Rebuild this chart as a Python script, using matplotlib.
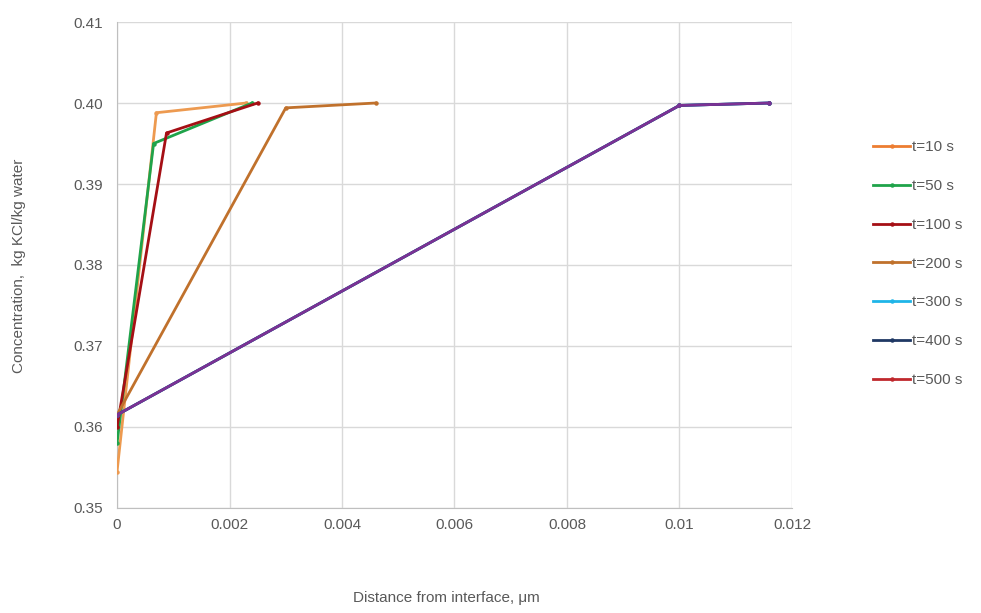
import matplotlib
matplotlib.use("Agg")
import matplotlib.pyplot as plt
from matplotlib.lines import Line2D

# ===================
# DATA
# ===================
LABELS = ["t=10 s", "t=50 s", "t=100 s", "t=200 s", "t=300 s", "t=400 s", "t=500 s"]
LEGEND_COLORS = ["#ED7D31", "#1FA34A", "#A50F15", "#C0712C", "#1FB5E8", "#1F3864", "#C0282D"]
LINE_COLORS = ["#ED9A50", "#1FA34A", "#A50F15", "#C0712C", "#1FB5E8", "#1F3864", "#7B3294"]

# distance from interface (um) and concentration (kg KCl/kg water)
x_10 = [0.0, 0.0007, 0.0023]
y_10 = [0.3545, 0.3988, 0.4000]
x_50 = [0.0, 0.00065, 0.0024]
y_50 = [0.3580, 0.3950, 0.4000]
x_100 = [0.0, 0.00088, 0.0025]
y_100 = [0.3600, 0.3963, 0.4000]
x_200 = [0.0, 0.0030, 0.0046]
y_200 = [0.3615, 0.3994, 0.4000]
x_300 = [0.0, 0.0100, 0.0116]
y_300 = [0.3615, 0.3997, 0.4000]
x_400 = [0.0, 0.0100, 0.0116]
y_400 = [0.3615, 0.3997, 0.4000]
x_500 = [0.0, 0.0100, 0.0116]
y_500 = [0.3615, 0.3997, 0.4000]

SERIES = [(x_10, y_10), (x_50, y_50), (x_100, y_100), (x_200, y_200),
          (x_300, y_300), (x_400, y_400), (x_500, y_500)]

TEXT_COLOR = "#595959"
GRID_COLOR = "#D9D9D9"

plt.rcParams["font.family"] = ["Liberation Sans", "DejaVu Sans"]

fig = plt.figure(figsize=(9.81, 6.13), dpi=100)
ax = fig.add_axes([0.1193, 0.1713, 0.688, 0.7928])

for (xs, ys), color in zip(SERIES, LINE_COLORS):
    ax.plot(xs, ys, color=color, lw=2.0, marker="o", ms=2.2, zorder=3)

ax.set_xlim(0, 0.012)
ax.set_ylim(0.35, 0.41)
ax.set_xticks([0, 0.002, 0.004, 0.006, 0.008, 0.01, 0.012])
ax.set_xticklabels(["0", "0.002", "0.004", "0.006", "0.008", "0.01", "0.012"])
ax.set_yticks([0.35, 0.36, 0.37, 0.38, 0.39, 0.40, 0.41])
ax.set_yticklabels(["0.35", "0.36", "0.37", "0.38", "0.39", "0.40", "0.41"])
ax.tick_params(colors=TEXT_COLOR, labelsize=11, length=0)
ax.tick_params(axis="x", pad=7)
ax.tick_params(axis="y", pad=10)
ax.grid(True, color=GRID_COLOR, lw=1.0, zorder=0)
ax.set_axisbelow(True)
for side in ["top", "right"]:
    ax.spines[side].set_visible(False)
for side in ["left", "bottom"]:
    ax.spines[side].set_color("#BFBFBF")

fig.text(0.019, 0.567, "Concentration,  kg KCl/kg water", rotation=90,
         ha="center", va="center", fontsize=11, color=TEXT_COLOR)
fig.text(0.455, 0.024, "Distance from interface, \u03bcm",
         ha="center", va="center", fontsize=11, color=TEXT_COLOR)

handles = [Line2D([0], [0], color=c, lw=2.0, marker="o", ms=2.2) for c in LEGEND_COLORS]
leg = fig.legend(handles, LABELS, loc="upper left", bbox_to_anchor=(0.884, 0.781),
                 frameon=False, fontsize=11, labelspacing=1.62, handlelength=2.4,
                 handletextpad=0.1, borderaxespad=0)
for t in leg.get_texts():
    t.set_color(TEXT_COLOR)

fig.savefig("out.png", dpi=100)
